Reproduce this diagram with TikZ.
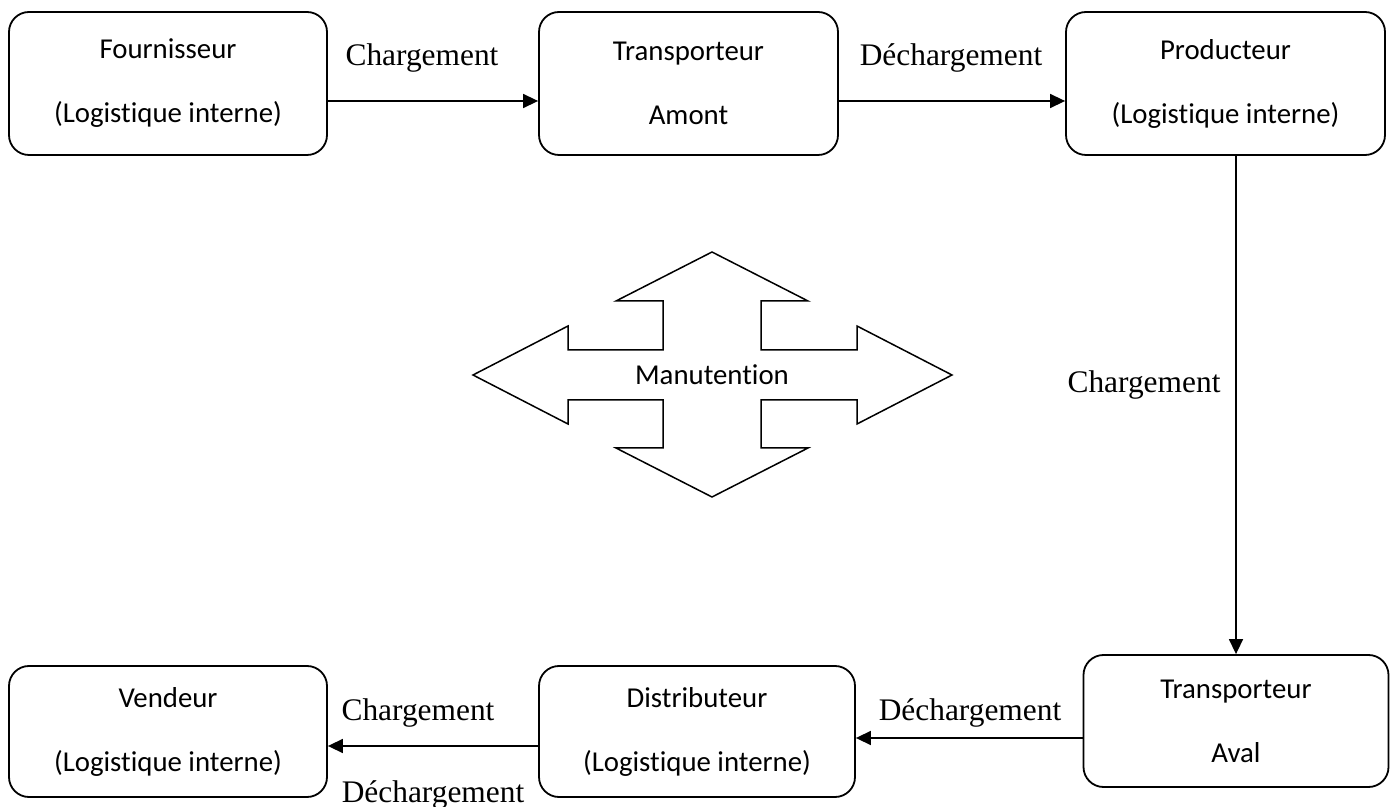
\documentclass[tikz,border=0pt]{standalone}
\usepackage{fontspec}
\setmainfont{Liberation Serif}
\newfontfamily\carlito[Ligatures=NoCommon]{Carlito}
\usetikzlibrary{arrows.meta,shapes,positioning,calc}

\begin{document}
\begin{tikzpicture}[x=0.5pt,y=-0.5pt,
  bloc/.style={draw,line width=0.9pt,rounded corners=10pt,align=center,
    font=\carlito\fontsize{14.4}{32}\selectfont,minimum height=71.5pt,inner sep=0pt},
  lien/.style={line width=0.75pt,-{Triangle[length=7.5pt,width=7pt]}},
  etiq/.style={font=\fontsize{15.7}{18}\selectfont,inner sep=0pt}]
\useasboundingbox (0,0) rectangle (1398,807);
% les acteurs
\node[bloc,minimum width=159pt] (four) at (168,83.5) {Fournisseur\\(Logistique interne)};
\node[bloc,minimum width=149.5pt] (amont) at (688.5,83.5) {Transporteur\\Amont};
\node[bloc,minimum width=159.5pt] (prod) at (1225.5,83.5) {Producteur\\(Logistique interne)};
\node[bloc,minimum width=159pt,minimum height=65.5pt] (vend) at (168,731.5) {Vendeur\\(Logistique interne)};
\node[bloc,minimum width=158pt,minimum height=65.5pt] (dist) at (697,731.5) {Distributeur\\(Logistique interne)};
\node[bloc,minimum width=152.5pt,minimum height=66pt] (aval) at (1236,721) {Transporteur\\Aval};
% les flux
\draw[lien] ([yshift=-8.75pt]four.east) -- ([yshift=-8.75pt]amont.west);
\draw[lien] ([yshift=-8.75pt]amont.east) -- ([yshift=-8.75pt]prod.west);
\draw[lien] (prod.south -| aval.north) -- (aval.north);
\draw[lien] ([yshift=-8.5pt]aval.west) -- ([yshift=-8.5pt]aval.west -| dist.east);
\draw[lien] ([yshift=-7.25pt]dist.west) -- ([yshift=-7.25pt]dist.west -| vend.east);
\node[etiq] (ch1) at (422,58) {Chargement};
\node[etiq] (de1) at (951,58) {Déchargement};
\node[etiq] (ch2) at (1144,385) {Chargement};
\node[etiq] (de2) at (970,713) {Déchargement};
\node[etiq] (ch3) at (418,713) {Chargement};
\node[etiq] (de3) at (433,795) {Déchargement};
% la manutention
\coordinate (croix) at (712,375);
\draw[line width=0.75pt,shift={(croix)}] (0,-123) -- (96,-74) -- (49,-74) -- (49,-25)
  -- (145,-25) -- (145,-49) -- (240,0) -- (145,49) -- (145,25) -- (49,25)
  -- (49,73) -- (96,73) -- (0,122) -- (-96,73) -- (-49,73) -- (-49,25)
  -- (-144,25) -- (-144,49) -- (-239,0) -- (-144,-49) -- (-144,-25) -- (-49,-25)
  -- (-49,-74) -- (-96,-74) -- cycle;
\node[font=\carlito\fontsize{14.4}{17}\selectfont] (manut) at (croix) {Manutention};
\end{tikzpicture}
\end{document}
